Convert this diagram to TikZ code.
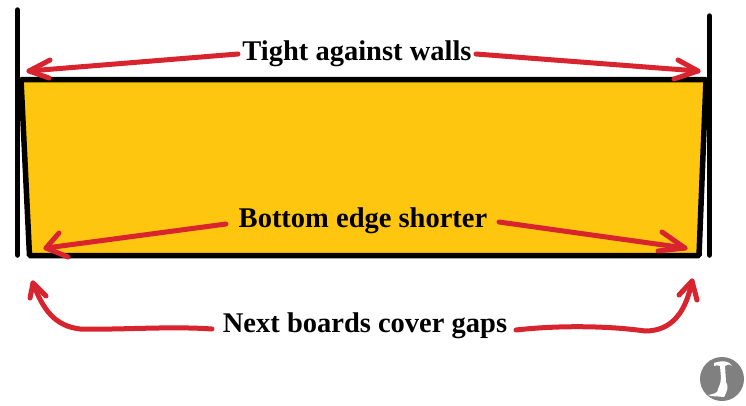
\documentclass[tikz,border=0pt]{standalone}
\usepackage{fontspec}
\setmainfont{Liberation Serif}
\definecolor{boardfill}{HTML}{FFC60F}
\definecolor{arrowred}{HTML}{D8242E}
\definecolor{logogray}{HTML}{808080}
\tikzset{
  wall/.style={draw=black,line width=5.5pt,line cap=round},
  redline/.style={draw=arrowred,line width=5pt,line cap=round,line join=round},
  lbl/.style={font=\bfseries\fontsize{28.5}{28.5}\selectfont,text=black,inner sep=0pt,anchor=center}
}
\begin{document}
\begin{tikzpicture}[x=1pt,y=-1pt]
\useasboundingbox (0,0) rectangle (746,405);
\fill[white] (0,0) rectangle (746,405);
% board
\coordinate (tl) at (21,79.5);
\coordinate (tr) at (706,79.5);
\coordinate (br) at (699,255.5);
\coordinate (bl) at (29.5,255.5);
\fill[boardfill] (tl) -- (tr) -- (br) -- (bl) -- cycle;
\draw[black,line width=5.5pt,line join=bevel] (tl) -- (tr) -- (br) -- (bl) -- cycle;
% walls
\coordinate (wl1) at (17.5,10);
\coordinate (wl2) at (17.5,255);
\coordinate (wr1) at (709.5,16);
\coordinate (wr2) at (709.5,255);
\draw[wall] (wl1) -- (wl2);
\draw[wall] (wr1) -- (wr2);
% labels
\node[lbl] (t1) at (357,53.5) {Tight against walls};
\node[lbl] (t2) at (363,220.5) {Bottom edge shorter};
\node[lbl] (t3) at (365,325.5) {Next boards cover gaps};
% arrow ends
\coordinate (a1) at (29,71);
\coordinate (a1t) at (238,54);
\coordinate (a2) at (698,71);
\coordinate (a2t) at (476,54);
\coordinate (a3) at (46,248);
\coordinate (a3t) at (226,224);
\coordinate (a4) at (685,248);
\coordinate (a4t) at (499,222);
\coordinate (a5) at (33,283);
\coordinate (a5t) at (212,329);
\coordinate (a6) at (692,281);
\coordinate (a6t) at (516,330);
% straight arrows
\draw[redline] (a1t) -- (a1);
\draw[redline] (50,60) -- (a1) -- (49,78);
\draw[redline] (a2t) -- (a2);
\draw[redline] (678,60) -- (a2) -- (674,79);
\draw[redline] (a3t) -- (a3);
\draw[redline] (59,233) -- (a3) -- (68,257);
\draw[redline] (a4t) -- (a4);
\draw[redline] (662,232) -- (a4) -- (658,251);
% curved arrows
\draw[redline] (a5t) .. controls (170,326) and (120,330) .. (80,329)
  .. controls (55,326) and (43,310) .. (a5);
\draw[redline] (30,298) -- (a5) -- (46,296);
\draw[redline] (a6t) .. controls (560,325) and (610,326) .. (645,331)
  .. controls (672,331) and (686,312) .. (a6);
\draw[redline] (679,295) -- (a6) -- (697,300);
% logo
\fill[logogray] (722,379) circle (22);
\fill[white] (714,363) .. controls (722,360) and (730,361) .. (732,366) .. controls (729,364) and (727,364) .. (725,366)
  -- (726,382) .. controls (729,386) and (727,392) .. (724,397)
  .. controls (718,396) and (712,397) .. (708,395) .. controls (714,394) and (718,393) .. (718,389)
  .. controls (720,384) and (721,382) .. (721,378) -- (720,366) .. controls (718,365) and (716,365) .. (714,366) -- cycle;
\end{tikzpicture}
\end{document}
